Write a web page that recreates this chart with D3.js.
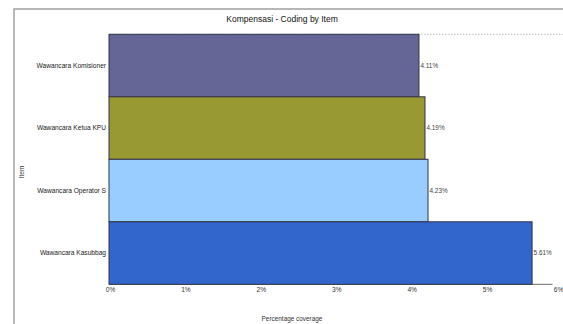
<!DOCTYPE html>
<html>
<head>
<meta charset="utf-8">
<script src="https://cdn.jsdelivr.net/npm/d3@7"></script>
<style>
  html, body { margin: 0; padding: 0; background: #fff; }
  svg { display: block; font-family: "Liberation Sans", Arial, sans-serif; }
</style>
</head>
<body>
<svg id="chart" width="563" height="324"></svg>
<script>
// Coding coverage per interview item (percent)
const items = ["Wawancara Komisioner", "Wawancara Ketua KPU", "Wawancara Operator S", "Wawancara Kasubbag"];
const coverage = [4.11, 4.19, 4.23, 5.61];
const colors = ["#656596", "#999933", "#99ccff", "#3366cc"];
const xTicks = [0, 1, 2, 3, 4, 5, 6];
const xTickLabels = ["0%", "1%", "2%", "3%", "4%", "5%", "6%"];

const svg = d3.select("#chart");
const W = 563, H = 324;
const plot = { left: 109, right: 561.5, top: 34.3, bottom: 284.3 };

const x = d3.scaleLinear().domain([0, 6]).range([plot.left, plot.right]);
const y = d3.scaleBand().domain(items).range([plot.top, plot.bottom]).padding(0);

// outer frame (top and left edges)
svg.append("path")
  .attr("d", `M14,${H} L14,9 L${W},9`)
  .attr("fill", "none").attr("stroke", "#a0a0a0").attr("stroke-width", 1.5);

// title
svg.append("text")
  .attr("x", 282).attr("y", 22)
  .attr("text-anchor", "middle")
  .attr("font-size", 8.5).attr("fill", "#111")
  .text("Kompensasi - Coding by Item");

// dotted top border of the plot area
svg.append("line")
  .attr("x1", plot.left).attr("x2", W)
  .attr("y1", plot.top).attr("y2", plot.top)
  .attr("stroke", "#bbb").attr("stroke-width", 1).attr("stroke-dasharray", "1.5,1.5");

// x axis baseline
svg.append("line")
  .attr("x1", plot.left).attr("x2", 552.5)
  .attr("y1", plot.bottom).attr("y2", plot.bottom)
  .attr("stroke", "#888").attr("stroke-width", 1.2);

// bars
const data = items.map((d, i) => ({ item: d, value: coverage[i], color: colors[i] }));
svg.append("g").selectAll("rect").data(data).join("rect")
  .attr("x", x(0))
  .attr("y", d => y(d.item))
  .attr("width", d => x(d.value) - x(0))
  .attr("height", y.bandwidth())
  .attr("fill", d => d.color)
  .attr("stroke", "#333348").attr("stroke-width", 1);

// value labels
svg.append("g").selectAll("text").data(data).join("text")
  .attr("x", d => x(d.value) + 1.5)
  .attr("y", d => y(d.item) + y.bandwidth() / 2 + 2.3)
  .attr("font-size", 6.4).attr("fill", "#444")
  .text(d => d.value.toFixed(2) + "%");

// category labels
const yAxis = svg.append("g")
  .attr("transform", `translate(${plot.left},0)`)
  .call(d3.axisLeft(y).tickSize(0).tickPadding(3));
yAxis.select(".domain").remove();
yAxis.selectAll("text")
  .attr("font-size", 6.6).attr("fill", "#222")
  .attr("font-family", "Liberation Sans, Arial, sans-serif");

// x tick labels (the last one is kept inside the right edge)
const xAxis = svg.append("g")
  .attr("transform", `translate(0,${plot.bottom})`)
  .call(d3.axisBottom(x).tickValues(xTicks).tickSize(0).tickPadding(3.5)
    .tickFormat((d, i) => xTickLabels[i]));
xAxis.select(".domain").remove();
xAxis.selectAll("text")
  .attr("font-size", 6.6).attr("fill", "#333")
  .attr("dx", (d, i) => i === xTicks.length - 1 ? 1.3 : 1)
  .attr("text-anchor", (d, i) => i === xTicks.length - 1 ? "end" : "middle")
  .attr("font-family", "Liberation Sans, Arial, sans-serif");

// axis titles
svg.append("text")
  .attr("x", 292).attr("y", 321)
  .attr("text-anchor", "middle")
  .attr("font-size", 6.4).attr("fill", "#333")
  .text("Percentage coverage");

svg.append("text")
  .attr("transform", "translate(24,172) rotate(-90)")
  .attr("text-anchor", "middle")
  .attr("font-size", 6.4).attr("fill", "#333")
  .text("Item");
</script>
</body>
</html>
